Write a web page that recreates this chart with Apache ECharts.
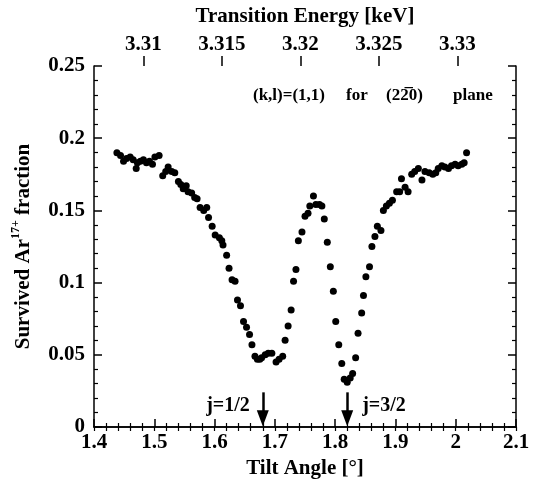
<!DOCTYPE html>
<html><head><meta charset="utf-8">
<script src="https://cdn.jsdelivr.net/npm/echarts@6/dist/echarts.min.js"></script>
<style>html,body{margin:0;padding:0;background:#fff}#c{width:534px;height:485px}</style>
</head><body><div id="c"></div>
<script>
const tiltAngle = [1.438,1.444,1.449,1.454,1.460,1.465,1.470,1.472,1.477,1.482,
1.487,1.492,1.497,1.501,1.508,1.514,1.519,1.523,1.529,1.534,
1.540,1.544,1.548,1.553,1.556,1.562,1.567,1.571,1.576,1.582,
1.587,1.590,1.596,1.601,1.608,1.612,1.614,1.620,1.624,1.629,
1.634,1.638,1.643,1.648,1.653,1.658,1.662,1.667,1.671,1.675,
1.678,1.684,1.689,1.695,1.702,1.707,1.713,1.717,1.722,1.727,
1.731,1.735,1.739,1.745,1.750,1.755,1.758,1.764,1.768,1.774,
1.778,1.782,1.787,1.792,1.797,1.801,1.806,1.811,1.815,1.820,
1.825,1.829,1.834,1.838,1.844,1.847,1.851,1.857,1.861,1.866,
1.870,1.876,1.880,1.885,1.890,1.895,1.902,1.907,1.910,1.916,
1.921,1.927,1.932,1.938,1.944,1.949,1.956,1.962,1.967,1.971,
1.977,1.982,1.988,1.993,1.999,2.004,2.010,2.014,2.018];
const survivedFraction = [0.190,0.188,0.184,0.186,0.187,0.185,0.179,0.183,0.184,0.185,
0.183,0.184,0.182,0.187,0.188,0.174,0.177,0.180,0.177,0.176,
0.170,0.168,0.165,0.167,0.163,0.162,0.159,0.158,0.152,0.150,
0.152,0.145,0.139,0.133,0.131,0.129,0.126,0.119,0.110,0.102,
0.101,0.088,0.084,0.073,0.069,0.064,0.057,0.049,0.047,0.047,
0.048,0.050,0.051,0.051,0.045,0.047,0.049,0.060,0.070,0.081,
0.101,0.109,0.129,0.135,0.146,0.148,0.153,0.160,0.154,0.154,
0.153,0.144,0.128,0.111,0.094,0.073,0.057,0.044,0.033,0.031,
0.034,0.037,0.048,0.065,0.079,0.091,0.104,0.111,0.125,0.132,
0.139,0.136,0.150,0.153,0.155,0.157,0.163,0.163,0.172,0.166,
0.163,0.175,0.177,0.179,0.171,0.177,0.176,0.175,0.176,0.179,
0.181,0.180,0.179,0.181,0.182,0.181,0.182,0.183,0.190];
const energyTicks = [3.31, 3.315, 3.32, 3.325, 3.33];
const energyRange = [3.30686, 3.33374];
const arrowTilts = [1.68, 1.82];
const arrowLabels = ['j=1/2', 'j=3/2'];
const arrowSpan = [0.024, 0.006];

const F = '"Liberation Serif", "Times New Roman", serif';
const black = '#000';
const lbl = {color: black, fontFamily: F, fontWeight: 'bold', fontSize: 21};
const nameStyle = {color: black, fontFamily: F, fontWeight: 'bold', fontSize: 21};
const line = {show: true, lineStyle: {color: black, width: 1.5}};

const chart = echarts.init(document.getElementById('c'), null, {renderer: 'canvas'});
chart.setOption({
  animation: false,
  backgroundColor: '#fff',
  grid: {left: 94, right: 18, top: 66, bottom: 58},
  xAxis: [
    {type: 'value', position: 'bottom', min: 1.4, max: 2.1, interval: 0.1,
     axisLine: line,
     axisTick: {inside: true, length: 8, lineStyle: {color: black, width: 1.5}},
     minorTick: {show: true, splitNumber: 5, length: 4, lineStyle: {color: black, width: 1.2}},
     splitLine: {show: false},
     axisLabel: Object.assign({margin: 5}, lbl),
     name: 'Tilt Angle [°]', nameLocation: 'middle', nameGap: 31, nameTextStyle: nameStyle},
    {type: 'value', position: 'top', min: 1.4, max: 2.1, interval: 0.02, offset: 0,
     axisLine: line,
     axisTick: {inside: true, length: 4, lineStyle: {color: black, width: 1.2}},
     splitLine: {show: false}, axisLabel: {show: false}},
    {type: 'value', position: 'top', min: energyRange[0], max: energyRange[1], offset: 0,
     axisLine: {show: false},
     axisTick: {show: true, inside: false, length: 10, customValues: energyTicks, lineStyle: {color: black, width: 1.5}},
     splitLine: {show: false},
     axisLabel: Object.assign({margin: 11, customValues: energyTicks, formatter: v => String(v)}, lbl),
     name: 'Transition Energy [keV]', nameLocation: 'middle', nameGap: 39, nameTextStyle: nameStyle}
  ],
  yAxis: [
    {type: 'value', position: 'left', min: 0, max: 0.25, interval: 0.05,
     axisLine: line,
     axisTick: {inside: true, length: 8, lineStyle: {color: black, width: 1.5}},
     minorTick: {show: true, splitNumber: 5, length: 4, lineStyle: {color: black, width: 1.2}},
     splitLine: {show: false},
     axisLabel: Object.assign({margin: 9}, lbl),
     name: '{a|Survived Ar}{s|17+}{a| fraction}', nameLocation: 'middle', nameGap: 60,
     nameTextStyle: {rich: {
       a: {color: black, fontFamily: F, fontWeight: 'bold', fontSize: 21, lineHeight: 24, verticalAlign: 'bottom'},
       s: {color: black, fontFamily: F, fontWeight: 'bold', fontSize: 12, verticalAlign: 'top'}
     }}},
    {type: 'value', position: 'right', min: 0, max: 0.25, interval: 0.05,
     axisLine: line,
     axisTick: {inside: true, length: 8, lineStyle: {color: black, width: 1.5}},
     minorTick: {show: true, splitNumber: 5, length: 4, lineStyle: {color: black, width: 1.2}},
     splitLine: {show: false}, axisLabel: {show: false}}
  ],
  series: [{
    type: 'scatter', xAxisIndex: 0, yAxisIndex: 0,
    symbol: 'circle', symbolSize: 7,
    itemStyle: {color: black, opacity: 1},
    data: tiltAngle.map((x, i) => [x, survivedFraction[i]]),
    markLine: {
      silent: true, animation: false,
      symbol: ['none', 'triangle'], symbolSize: [12, 16],
      lineStyle: {color: black, width: 2.5, type: 'solid', opacity: 1},
      label: {show: false},
      data: arrowTilts.map(t => [{coord: [t, arrowSpan[0]]}, {coord: [t, arrowSpan[1]]}])
    }
  }]
});

const ann = {fill: black, font: 'bold 17px ' + F};
const graphics = [
  {type: 'text', left: 253, top: 87, style: Object.assign({text: '(k,l)=(1,1)'}, ann)},
  {type: 'text', left: 346, top: 87, style: Object.assign({text: 'for'}, ann)},
  {type: 'text', left: 386, top: 87, style: Object.assign({text: '(22\u03050)'}, ann)},
  {type: 'text', left: 453, top: 87, style: Object.assign({text: 'plane'}, ann)}
];
arrowTilts.forEach((t, i) => {
  const p = chart.convertToPixel({xAxisIndex: 0, yAxisIndex: 0}, [t, 0.015]);
  graphics.push({type: 'text', x: i === 0 ? p[0] - 13 : p[0] + 15, y: p[1],
    style: {text: arrowLabels[i], fill: black, font: 'bold 20px ' + F,
      textAlign: i === 0 ? 'right' : 'left', textVerticalAlign: 'middle'}});
});
chart.setOption({graphic: graphics});
</script></body></html>
